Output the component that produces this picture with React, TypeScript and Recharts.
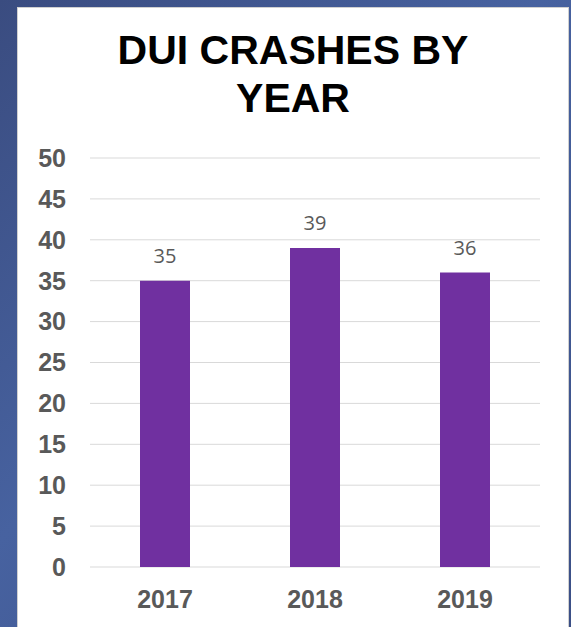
import React from 'react';
import { BarChart, Bar, XAxis, YAxis, CartesianGrid, LabelList } from 'recharts';

const years = ['2017', '2018', '2019'];
const crashes = [35, 39, 36];
const yTicks = [0, 5, 10, 15, 20, 25, 30, 35, 40, 45, 50];

const data = years.map((year, i) => ({ year, value: crashes[i] }));

const TICK_STYLE = {
  fill: '#595959',
  fontSize: 25,
  fontWeight: 700,
  fontFamily: '"Liberation Sans", Arial, sans-serif',
};

const App: React.FC = () => {
  return (
    <div
      style={{
        position: 'absolute',
        top: 0,
        left: 0,
        width: 571,
        height: 627,
        overflow: 'hidden',
        background: 'linear-gradient(135deg, #3a4c80 0%, #4762a0 45%, #3b4f86 100%)',
      }}
    >
      <div
        style={{
          position: 'absolute',
          left: 17,
          top: 7,
          width: 550,
          height: 640,
          background: '#ffffff',
          border: '1px solid #d0d0d0',
        }}
      />
      <div
        style={{
          position: 'absolute',
          left: 18,
          top: 26,
          width: 550,
          textAlign: 'center',
          fontFamily: '"Liberation Sans", Arial, sans-serif',
          fontWeight: 700,
          fontSize: 41,
          lineHeight: '48px',
          color: '#000000',
        }}
      >
        DUI CRASHES BY
        <br />
        YEAR
      </div>
      <div style={{ position: 'absolute', left: 0, top: 0 }}>
        <BarChart
          width={571}
          height={627}
          data={data}
          margin={{ top: 158, right: 31, left: 30, bottom: 30 }}
        >
          <CartesianGrid vertical={false} stroke="#d9d9d9" />
          <XAxis
            dataKey="year"
            axisLine={false}
            tickLine={false}
            tickMargin={17}
            tick={TICK_STYLE}
          />
          <YAxis
            width={60}
            domain={[0, 50]}
            ticks={yTicks}
            axisLine={false}
            tickLine={false}
            tickMargin={18}
            tick={TICK_STYLE}
          />
          <Bar dataKey="value" fill="#7030a0" barSize={50} isAnimationActive={false}>
            <LabelList
              dataKey="value"
              position="top"
              offset={18}
              fill="#595959"
              fontSize={20}
              fontFamily='"Open Sans", sans-serif'
            />
          </Bar>
        </BarChart>
      </div>
    </div>
  );
};

export default App;
